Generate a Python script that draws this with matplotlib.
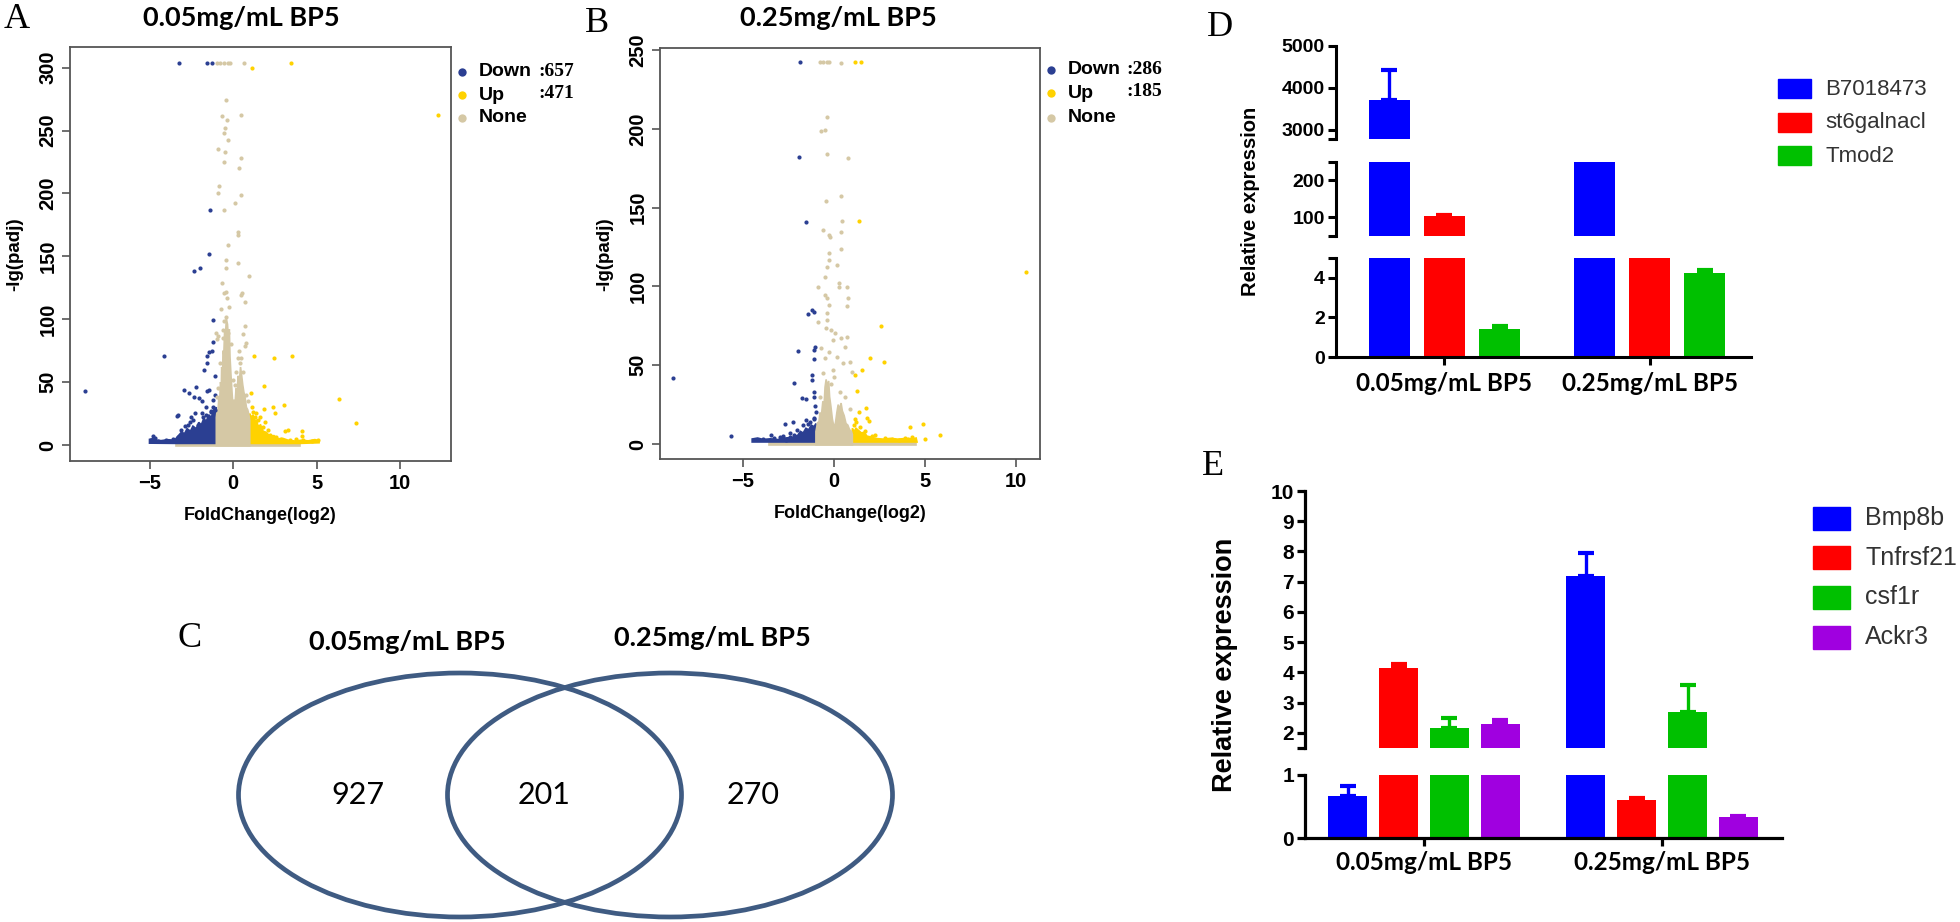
import numpy as np
import matplotlib.pyplot as plt
from matplotlib.patches import Ellipse, Polygon, Rectangle
from matplotlib.lines import Line2D

W, H = 1960, 922

# ---------------- data ----------------
deg_labels = ['Down', 'Up', 'None']
a_counts = [657, 471]
b_counts = [286, 185]

# volcano A (0.05mg/mL): scattered points (log2 FC, -lg padj)
a_down = [(-3.23, 304), (-1.56, 304), (-1.26, 304), (-1.38, 186.5), (-1.44, 152),
          (-2.32, 138.6), (-1.97, 140.5), (-1.22, 99), (-1.17, 82), (-1.42, 74),
          (-1.26, 74.6), (-1.54, 70.6), (-1.56, 65.6), (-1.74, 59.5), (-1.10, 55),
          (-4.15, 71), (-8.85, 42.6), (-2.94, 43.4), (-2.20, 46.3), (-2.66, 41.5),
          (-1.44, 43.9), (-1.56, 42.9), (-2.36, 38), (-2.06, 37.6), (-1.83, 35),
          (-1.19, 30.4), (-1.33, 27), (-3.35, 23), (-3.28, 23.5), (-2.25, 25.7),
          (-1.83, 25.7), (-4.77, 7), (-4.89, 4), (-2.9, 15), (-2.6, 18), (-2.4, 20),
          (-2.1, 16), (-1.8, 22), (-1.6, 24), (-1.3, 26), (-3.0, 9), (-3.3, 6),
          (-3.6, 5), (-4.0, 4), (-4.5, 3.5), (-4.7, 5.5), (-2.0, 12), (-1.1, 28),
          (-1.2, 36), (-1.05, 40), (-1.6, 30), (-2.5, 22), (-3.1, 12), (-2.7, 16)]
a_up = [(1.12, 300), (3.49, 304), (12.27, 262), (1.26, 70.6), (2.48, 68.8),
        (3.53, 70.6), (1.83, 46.8), (1.10, 41.5), (6.33, 36.2), (7.39, 17.2),
        (3.03, 31.7), (1.88, 28.8), (2.39, 30.4), (2.52, 25.7), (1.38, 25.7),
        (1.31, 22), (3.14, 11), (3.30, 11.6), (4.15, 11), (4.15, 7), (5.09, 3.7),
        (1.2, 26), (1.5, 20), (1.8, 14), (2.2, 8), (2.6, 6.5), (2.9, 5), (3.4, 4),
        (3.8, 4.5), (4.2, 3.8), (4.7, 3), (1.9, 18), (2.1, 12), (1.15, 30), (1.6, 22)]
a_none = [(-0.94, 304), (-0.76, 304), (-0.53, 304), (-0.30, 304), (-0.18, 304),
          (0.67, 304), (-0.41, 274), (-0.64, 261.6), (-0.37, 258), (-0.46, 252),
          (-0.53, 248), (-0.30, 242.6), (0.46, 262), (-0.87, 235.5), (-0.46, 232.8),
          (-0.53, 225), (0.50, 228), (0.37, 220), (-0.83, 206), (-0.87, 200),
          (0.50, 199), (0.14, 192), (-0.53, 187), (0.32, 169), (0.28, 167),
          (-0.30, 159), (0.28, 145), (-0.41, 141), (-0.41, 147), (0.96, 134.7),
          (-0.64, 128.8), (-0.41, 122), (-0.53, 121), (-0.37, 117), (0.55, 121),
          (0.73, 114), (0.46, 119.6), (-0.41, 102), (-0.53, 98.4), (-0.60, 91.8),
          (-0.30, 89), (-0.99, 89), (-0.87, 86.5), (-0.98, 84), (0.73, 94.4),
          (0.78, 81.2), (0.69, 78.6), (0.28, 69.3), (0.50, 69.3), (0.39, 65.3),
          (-0.9, 45), (-0.75, 65), (-0.6, 85), (-0.15, 80), (0.1, 48), (0.2, 58),
          (0.62, 58), (0.8, 40), (0.9, 35), (-0.95, 38), (0.35, 75), (-0.25, 110),
          (0.0, 52), (-0.7, 108), (0.6, 88)]
# outlines of the dense clouds
a_band = [(-3.4, -0.6), (-3.4, 2.0), (4.0, 2.0), (4.0, -0.6)]
a_down_core = [(-5.0, 1.5), (-5.0, 4.5), (-4.8, 5), (-4.6, 3.8), (-4.3, 3.5), (-3.9, 4.2),
               (-3.5, 3.8), (-3.3, 7), (-3.1, 10), (-2.9, 9), (-2.75, 13), (-2.55, 11),
               (-2.4, 15), (-2.2, 13), (-2.05, 18), (-1.9, 16), (-1.75, 21), (-1.6, 19),
               (-1.45, 24), (-1.3, 22), (-1.15, 28), (-1.0, 30), (-1.0, 1.3), (-3.4, 1.3)]
a_up_core = [(1.0, 1.3), (1.0, 25), (1.1, 22), (1.2, 24), (1.3, 19), (1.4, 20), (1.5, 15),
             (1.65, 16), (1.8, 11), (2.0, 10), (2.2, 7), (2.45, 7.5), (2.7, 5), (3.0, 5.2),
             (3.3, 3.8), (3.7, 3.2), (4.1, 3.8), (4.5, 3.3), (4.9, 4.3), (5.15, 3.5),
             (5.15, 1.8), (4.0, 1.3)]
a_none_core = [(-1.0, -0.6), (-1.0, 22), (-0.95, 28), (-0.9, 26), (-0.85, 38), (-0.8, 35),
               (-0.75, 50), (-0.7, 46), (-0.68, 62), (-0.62, 58), (-0.6, 75), (-0.55, 72),
               (-0.5, 92), (-0.45, 88), (-0.4, 100), (-0.33, 96), (-0.28, 85), (-0.22, 92),
               (-0.18, 70), (-0.12, 55), (-0.05, 40), (0.0, 30), (0.05, 36), (0.12, 32),
               (0.18, 45), (0.25, 40), (0.3, 55), (0.38, 50), (0.45, 62), (0.52, 55),
               (0.58, 48), (0.65, 42), (0.72, 38), (0.8, 30), (0.88, 28), (0.95, 24),
               (1.0, 20), (1.0, -0.6)]

# volcano B (0.25mg/mL)
b_down = [(-1.85, 242.6), (-1.95, 182), (-1.54, 141), (-1.41, 82.5), (-1.19, 85),
          (-1.13, 84), (-2.0, 59), (-1.06, 61.8), (-1.09, 59.6), (-1.13, 53.7),
          (-1.19, 44), (-1.24, 40.6), (-2.21, 38.5), (-1.76, 29.4), (-1.52, 28.3),
          (-1.13, 33), (-1.13, 29.6), (-1.06, 24), (-1.02, 20.5), (-1.13, 16.3),
          (-8.82, 42), (-5.65, 5.3), (-2.69, 12.7), (-2.28, 14.2), (-1.56, 15.2),
          (-1.45, 13), (-3.47, 5.7), (-2.97, 4.6), (-2.43, 6.8), (-2.06, 8.9),
          (-2.65, 2.5), (-2.0, 3), (-3.9, 3.5), (-3.3, 4), (-2.8, 5), (-2.4, 4.5),
          (-1.7, 12), (-1.3, 14), (-1.1, 16), (-1.5, 8), (-2.2, 6)]
b_up = [(1.17, 242.6), (1.48, 242.6), (1.37, 141.5), (2.56, 74.9), (1.98, 54.8),
        (2.71, 52.2), (1.15, 43.8), (1.52, 47), (10.53, 109), (1.26, 33.8),
        (1.37, 20.5), (1.74, 22.6), (1.91, 14.8), (1.82, 16.3), (1.15, 15.7),
        (4.19, 11), (4.9, 12.5), (5.82, 5.7), (5.0, 3), (2.24, 5.7), (4.08, 3),
        (3.54, 2.5), (1.1, 12), (1.4, 11), (1.7, 8), (2.1, 5), (2.8, 4), (3.2, 3.5),
        (3.9, 3.6), (4.3, 4.5), (1.2, 14)]
b_none = [(-0.8, 242.6), (-0.59, 242.6), (-0.37, 242.6), (-0.26, 242.6), (0.35, 241.5),
          (-0.37, 207.7), (-0.74, 198.8), (-0.48, 199), (-0.37, 184), (0.76, 181.7),
          (-0.43, 154), (0.35, 157.5), (0.43, 141.5), (0.35, 134.3), (-0.63, 135.8),
          (-0.3, 132.6), (-0.22, 131.6), (0.35, 123.7), (-0.3, 121), (-0.3, 116.8),
          (-0.37, 112.5), (-0.48, 106), (0.17, 113.6), (0.28, 102), (0.28, 99.4),
          (-0.91, 99.8), (0.72, 99.4), (0.78, 92.4), (0.72, 87.6), (-0.48, 94.5),
          (-0.37, 92.4), (-0.3, 88.2), (-0.37, 83), (-0.91, 77.6), (-0.37, 78.7),
          (-0.43, 73.4), (-0.15, 72.3), (0.07, 70.2), (-0.04, 66), (0.39, 67),
          (0.72, 68), (0.61, 61.8), (-0.7, 60.7), (-0.3, 58.6), (-0.52, 54.4),
          (0.17, 55.4), (0.5, 51.2), (0.87, 52.2), (0.98, 45.9), (-0.04, 47), (0.0, 42.7),
          (-0.6, 45), (-0.2, 38), (0.3, 33), (0.6, 30), (-0.8, 30), (0.85, 22)]
b_band = [(-3.6, -0.5), (-3.6, 1.8), (4.5, 1.8), (4.5, -0.5)]
b_down_core = [(-4.5, 1.3), (-4.5, 3.2), (-4.2, 3.8), (-3.9, 2.9), (-3.5, 3.3), (-3.1, 2.8),
               (-2.7, 3.8), (-2.3, 4.2), (-2.0, 5.5), (-1.85, 8), (-1.7, 7), (-1.55, 10),
               (-1.4, 9), (-1.25, 12), (-1.1, 11), (-1.0, 13), (-1.0, 1.3)]
b_up_core = [(1.0, 1.3), (1.0, 10), (1.1, 8), (1.2, 10), (1.35, 8.5), (1.5, 7), (1.65, 7.5),
             (1.8, 5), (2.0, 4.5), (2.3, 3.5), (2.7, 3.1), (3.1, 3.6), (3.5, 3.1), (3.9, 3.5),
             (4.3, 3.2), (4.5, 3.8), (4.55, 1.3)]
b_none_core = [(-1.0, -0.5), (-1.0, 8), (-0.9, 14), (-0.85, 12), (-0.78, 20), (-0.7, 18),
               (-0.62, 27), (-0.55, 25), (-0.5, 36), (-0.44, 41), (-0.38, 37), (-0.3, 40),
               (-0.25, 30), (-0.18, 24), (-0.1, 16), (0.0, 10), (0.08, 14), (0.15, 20),
               (0.22, 25), (0.3, 22), (0.38, 26), (0.45, 21), (0.55, 18), (0.65, 13),
               (0.75, 12), (0.85, 9), (0.95, 8), (1.0, 6), (1.0, -0.5)]

# Venn counts
venn_sets = ['0.05mg/mL BP5', '0.25mg/mL BP5']
venn_counts = [927, 201, 270]

# qPCR panel D
groups = ['0.05mg/mL BP5', '0.25mg/mL BP5']
d_genes = ['B7018473', 'st6galnacl', 'Tmod2']
d_values = [[3700, 260], [105, 20], [1.4, 4.25]]
d_errors = [[730, 0], [3, 0], [0.18, 0.15]]

# qPCR panel E
e_genes = ['Bmp8b', 'Tnfrsf21', 'csf1r', 'Ackr3']
e_values = [[0.66, 7.2], [4.16, 0.6], [2.16, 2.7], [2.3, 0.33]]
e_errors = [[0.17, 0.75], [0.13, 0.04], [0.34, 0.9], [0.13, 0.02]]

# ---------------- drawing ----------------
C_DOWN, C_UP, C_NONE = '#2b3f92', '#ffd200', '#d5c8a5'
d_colors = ['#0000ff', '#ff0000', '#00c000']
e_colors = ['#0000ff', '#ff0000', '#00c000', '#a000e0']
SANS = 'Liberation Sans'
SERIF = 'Liberation Serif'
CAL = 'Lato'

fig = plt.figure(figsize=(W / 100, H / 100), dpi=100)


def fx(x):
    return x / W


def fy(y):
    return 1 - y / H


def box(l, t, r, b):
    return [l / W, 1 - b / H, (r - l) / W, (b - t) / H]


def volcano(rect, xlim, ylim, yticks, pts, cores):
    ax = fig.add_axes(rect)
    band, down_core, up_core, none_core = cores
    for poly, c in [(band, C_NONE), (down_core, C_DOWN), (up_core, C_UP), (none_core, C_NONE)]:
        ax.add_patch(Polygon(poly, closed=True, facecolor=c, edgecolor=c, lw=1.2))
    for p, c in zip(pts, [C_DOWN, C_UP, C_NONE]):
        xs, ys = zip(*p)
        ax.scatter(xs, ys, s=9, color=c, linewidths=0)
    ax.set_xlim(xlim)
    ax.set_ylim(ylim)
    ax.set_xticks([-5, 0, 5, 10])
    ax.set_yticks(yticks)
    for s in ax.spines.values():
        s.set_color('#555555')
        s.set_linewidth(1.3)
    ax.tick_params(colors='#555555', length=5.5, width=1.2, labelcolor='black')
    ax.tick_params(axis='y', labelrotation=90)
    for lab in ax.get_xticklabels() + ax.get_yticklabels():
        lab.set_fontfamily(SANS)
        lab.set_fontweight('bold')
        lab.set_fontsize(14.5)
    for lab in ax.get_yticklabels():
        lab.set_verticalalignment('center')
    return ax


def volcano_text(title_xy, xlab_xy, ylab_xy, dot_x, text_x, count_x, rows_y, counts):
    fig.text(fx(title_xy[0]), fy(title_xy[1]), title_xy[2], family=CAL, fontweight='bold',
             fontsize=19.5, ha='center', va='center')
    fig.text(fx(xlab_xy[0]), fy(xlab_xy[1]), 'FoldChange(log2)', family=SANS,
             fontweight='bold', fontsize=13, ha='center', va='center')
    fig.text(fx(ylab_xy[0]), fy(ylab_xy[1]), '-lg(padj)', family=SANS, fontweight='bold',
             fontsize=13.5, ha='center', va='center', rotation=90)
    for i, (lab, c, yy) in enumerate(zip(deg_labels, [C_DOWN, C_UP, C_NONE], rows_y)):
        fig.add_artist(Line2D([fx(dot_x)], [fy(yy)], marker='o', ms=6, color=c, mec='none',
                              transform=fig.transFigure))
        fig.text(fx(text_x), fy(yy), lab, family=SANS, fontweight='bold', fontsize=14,
                 ha='left', va='center')
        if i < len(counts):
            fig.text(fx(count_x), fy(yy - 1), ':%d' % counts[i], family=SERIF,
                     fontweight='bold', fontsize=14, ha='left', va='center')


# A
volcano(box(70, 47, 451, 461), (-9.76, 13.05), (-12.7, 316.4), [0, 50, 100, 150, 200, 250, 300],
        [a_down, a_up, a_none], [a_band, a_down_core, a_up_core, a_none_core])
volcano_text((241, 18, '0.05mg/mL BP5'), (260, 515), (15, 254), 462, 479, 538,
             [72, 95, 118], a_counts)
# B
volcano(box(660, 48, 1040, 459), (-9.56, 11.3), (-9.5, 251.3), [0, 50, 100, 150, 200, 250],
        [b_down, b_up, b_none], [b_band, b_down_core, b_up_core, b_none_core])
volcano_text((838, 18, '0.25mg/mL BP5'), (850, 514), (605, 254), 1051, 1068, 1126,
             [70, 93, 118], b_counts)

# C: Venn
axv = fig.add_axes([0, 0, 1, 1])
axv.set_xlim(0, W)
axv.set_ylim(H, 0)
axv.axis('off')
axv.patch.set_alpha(0)
VC = '#3f5b82'
axv.add_patch(Ellipse((460, 795), 443, 244, fill=False, ec=VC, lw=3.4))
axv.add_patch(Ellipse((670, 795), 445, 244, fill=False, ec=VC, lw=3.4))
for (xx, yy), n in zip([(358, 795), (544, 795), (753, 795)], venn_counts):
    axv.text(xx, yy, str(n), family=CAL, fontsize=22, ha='center', va='center')
for (xx, yy), s in zip([(407, 642), (712, 638)], venn_sets):
    axv.text(xx, yy, s, family=CAL, fontweight='bold', fontsize=19.5, ha='center', va='center')


def seg_axes(rect, xlim, ylim, ticks, labels, lw, fs, bottom=False):
    ax = fig.add_axes(rect)
    ax.patch.set_alpha(0)
    ax.set_xlim(xlim)
    ax.set_ylim(ylim)
    ax.spines['top'].set_visible(False)
    ax.spines['right'].set_visible(False)
    ax.spines['left'].set_linewidth(lw)
    ax.set_yticks(ticks)
    ax.set_yticklabels(labels, family=SANS, fontweight='bold', fontsize=fs)
    ax.tick_params(axis='y', width=lw, length=6, pad=2)
    if bottom:
        ax.spines['bottom'].set_linewidth(lw)
        ax.set_xticks([0, 1])
        ax.tick_params(axis='x', width=lw, length=6)
    else:
        ax.spines['bottom'].set_visible(False)
        ax.set_xticks([])
    return ax


def draw_bars(axes, values, errors, colors, offset, width):
    n = len(values)
    for ax in axes:
        for i in range(n):
            xs = np.arange(len(groups)) + (i - (n - 1) / 2) * offset
            ax.bar(xs, values[i], width, color=colors[i], edgecolor='none')
            ax.errorbar(xs, values[i], yerr=[np.zeros(len(groups)), errors[i]], fmt='none',
                        ecolor=colors[i], elinewidth=2.4, capsize=6, capthick=3)


# D
d_xlim = (-0.529, 1.495)
d_bot = seg_axes(box(1336, 258, 1751, 357), d_xlim, (0, 5), [0, 2, 4, 5], ['0', '2', '4', ''],
                 2.2, 14, bottom=True)
d_mid = seg_axes(box(1336, 162, 1751, 236), d_xlim, (50, 250), [50, 100, 200, 250],
                 ['', '100', '200', ''], 2.2, 14)
d_top = seg_axes(box(1336, 46, 1751, 139), d_xlim, (2780, 5000), [2780, 3000, 4000, 5000],
                 ['', '3000', '4000', '5000'], 2.2, 14)
draw_bars([d_bot, d_mid, d_top], d_values, d_errors, d_colors, 0.27, 0.2)
d_bot.set_xticklabels(groups, family=CAL, fontweight='bold', fontsize=17.5)
d_bot.tick_params(axis='x', pad=5)
fig.text(fx(1250), fy(201), 'Relative expression', family=SANS, fontweight='bold',
         fontsize=14.5, rotation=90, ha='center', va='center')
for i, g in enumerate(d_genes):
    yy = 89 + i * 33.5
    fig.add_artist(Rectangle((fx(1778), fy(yy + 9.5)), 33 / W, 19 / H, color=d_colors[i],
                             transform=fig.transFigure))
    fig.text(fx(1825), fy(yy), g, family=SANS, fontsize=16, color='#333333', ha='left',
             va='center')

# E
e_xlim = (-0.5, 1.504)
e_bot = seg_axes(box(1305, 775, 1782, 838), e_xlim, (0, 1), [0, 1], ['0', '1'], 2.3, 15,
                 bottom=True)
e_top = seg_axes(box(1305, 491, 1782, 748), e_xlim, (1.5, 10), [1.5] + list(range(2, 11)),
                 [''] + [str(v) for v in range(2, 11)], 2.3, 15)
draw_bars([e_bot, e_top], e_values, e_errors, e_colors, 0.214, 0.164)
e_bot.set_xticklabels(groups, family=CAL, fontweight='bold', fontsize=17.5)
e_bot.tick_params(axis='x', pad=3)
fig.text(fx(1225), fy(665), 'Relative expression', family=SANS, fontweight='bold',
         fontsize=19.5, rotation=90, ha='center', va='center')
for i, g in enumerate(e_genes):
    yy = 518 + i * 39.7
    fig.add_artist(Rectangle((fx(1813), fy(yy + 11.5)), 37 / W, 23 / H, color=e_colors[i],
                             transform=fig.transFigure))
    fig.text(fx(1865), fy(yy), g, family=SANS, fontsize=18, color='#333333', ha='left',
             va='center')

# panel letters
for (xx, yy), s in zip([(17, 19), (597, 23), (190, 638), (1220, 28), (1213, 466)],
                       ['A', 'B', 'C', 'D', 'E']):
    fig.text(fx(xx), fy(yy), s, family=SERIF, fontsize=26, ha='center', va='center')

fig.savefig('out.png', dpi=100)
